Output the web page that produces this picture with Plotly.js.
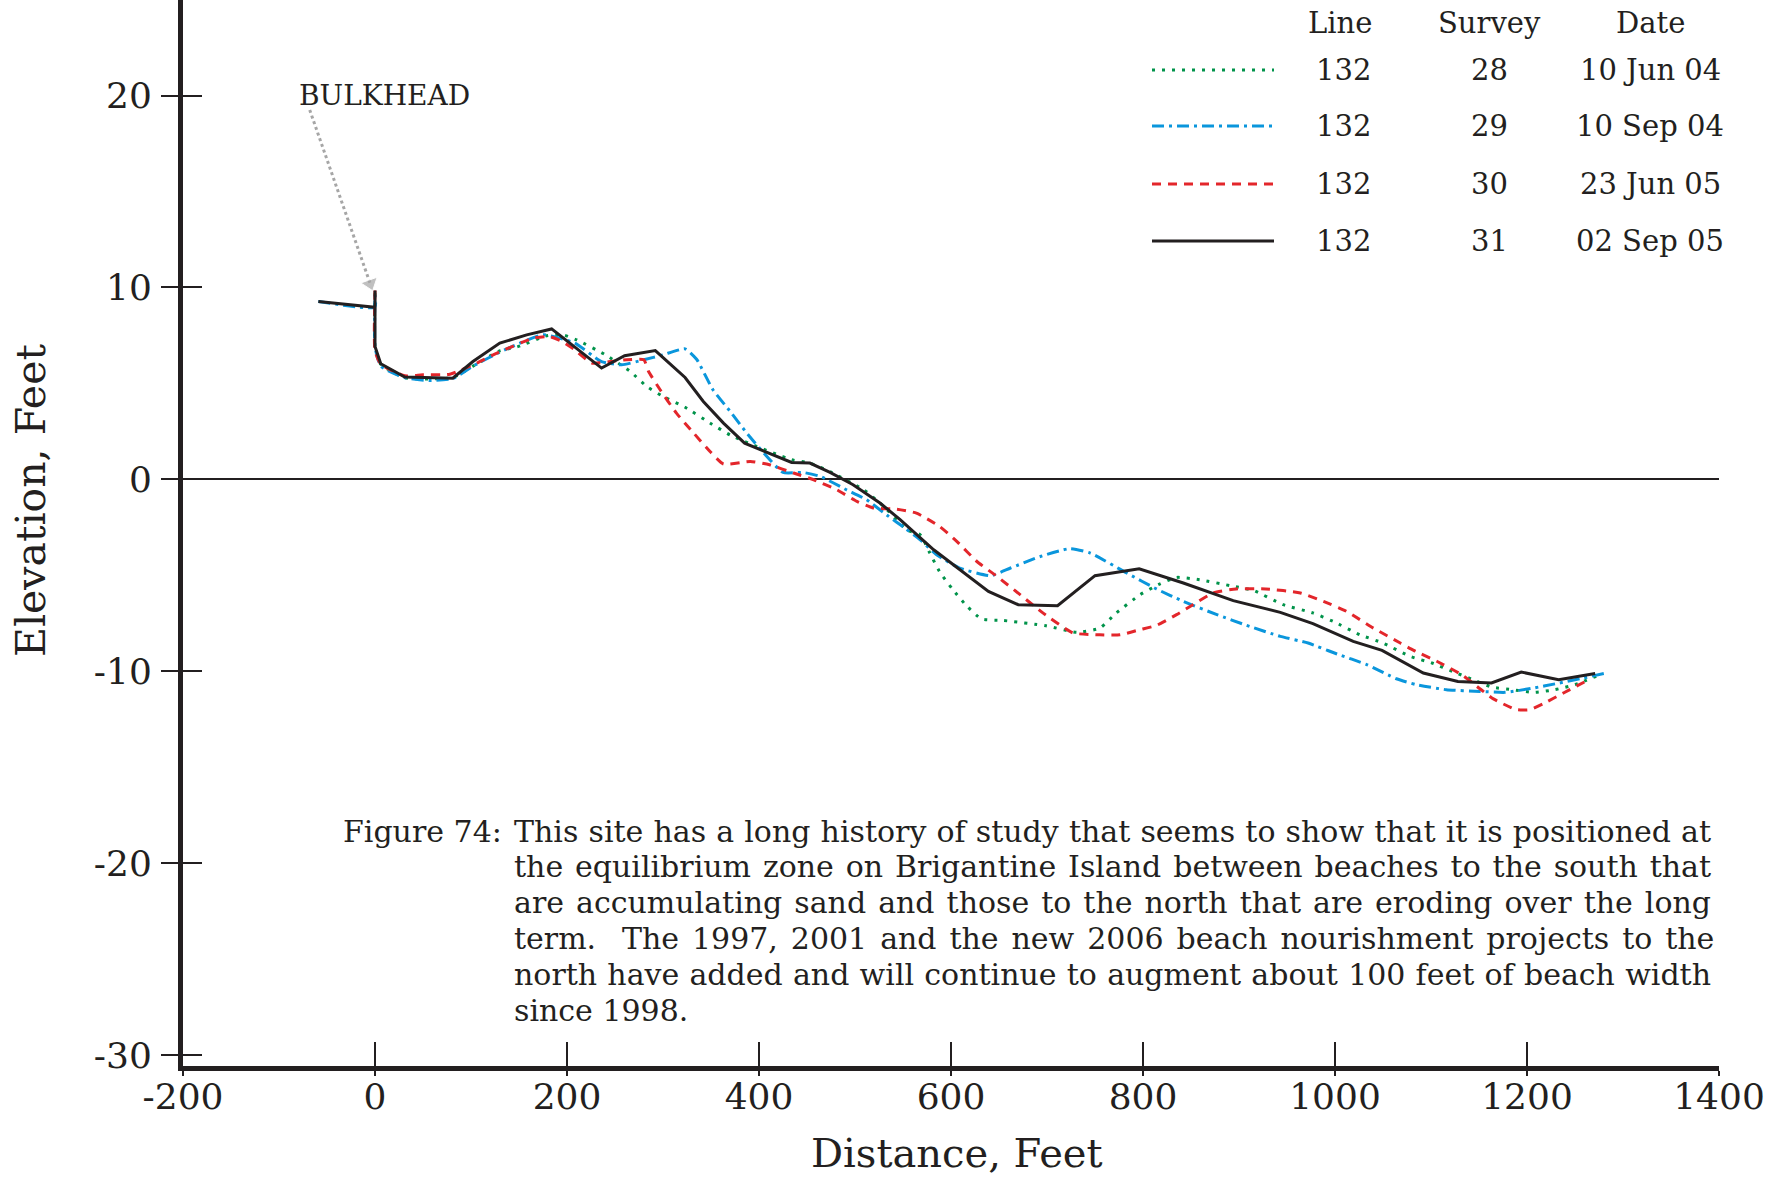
<!DOCTYPE html>
<html>
<head>
<meta charset="utf-8">
<script src="https://cdn.plot.ly/plotly-3.0.1.min.js"></script>
<style>html,body{margin:0;padding:0;background:#fff;}#chart{width:1782px;height:1181px;}</style>
</head>
<body>
<div id="chart"></div>
<script>
// ---------- data ----------
const xTickVals = [-200, 0, 200, 400, 600, 800, 1000, 1200, 1400];
const xTickText = ['-200', '0', '200', '400', '600', '800', '1000', '1200', '1400'];
const yTickVals = [-30, -20, -10, 0, 10, 20];
const yTickText = ['-30', '-20', '-10', '0', '10', '20'];

// Survey 28 (10 Jun 04) - green dotted
const s28x = [0, 0, 6, 31, 81, 102, 130, 148, 180, 196, 210, 240, 266, 283, 300, 323, 351, 370, 385, 434, 453, 474, 509, 530, 554, 568, 578, 588, 602, 616, 632, 654, 699, 731, 755, 772, 797, 816, 835, 859, 891, 915, 946, 977, 998, 1026, 1050, 1078, 1101, 1122, 1142, 1163, 1185, 1207, 1229, 1250, 1275];
const s28y = [9.7, 6.9, 6.0, 5.3, 5.3, 5.9, 6.7, 6.9, 7.5, 7.53, 7.27, 6.49, 5.62, 4.84, 4.32, 3.76, 2.87, 2.31, 1.97, 1.02, 0.85, 0.4, -0.54, -1.41, -2.63, -2.89, -3.84, -4.8, -5.75, -6.58, -7.28, -7.35, -7.63, -7.97, -7.75, -6.97, -6.01, -5.49, -5.11, -5.23, -5.54, -5.79, -6.53, -6.96, -7.4, -8.1, -8.53, -9.22, -9.57, -10.0, -10.4, -10.82, -10.96, -11.1, -10.96, -10.7, -10.2];

// Survey 29 (10 Sep 04) - blue dash-dot
const s29x = [-59, 0, 0, 0, 6, 31, 57, 81, 102, 135, 175, 208, 236, 257, 280, 300, 323, 335, 352, 370, 387, 405, 425, 446, 464, 491, 512, 535, 552, 568, 585, 609, 641, 662, 693, 724, 745, 783, 814, 842, 877, 908, 943, 972, 1002, 1033, 1064, 1085, 1116, 1151, 1177, 1207, 1231, 1259, 1280];
const s29y = [9.27, 8.97, 9.6, 6.9, 5.9, 5.3, 5.15, 5.25, 5.9, 6.75, 7.53, 7.1, 6.14, 5.97, 6.23, 6.49, 6.8, 6.26, 4.67, 3.54, 2.43, 1.37, 0.36, 0.36, 0.15, -0.54, -1.06, -1.93, -2.54, -3.15, -3.93, -4.62, -5.02, -4.62, -4.02, -3.61, -3.84, -4.88, -5.71, -6.36, -7.05, -7.61, -8.18, -8.53, -9.1, -9.65, -10.39, -10.7, -10.96, -11.05, -11.1, -10.87, -10.64, -10.35, -10.12];

// Survey 30 (23 Jun 05) - red dashed
const s30x = [0, 0, 6, 31, 50, 78, 106, 127, 165, 182, 195, 207, 226, 245, 262, 280, 285, 297, 314, 332, 349, 363, 391, 411, 436, 457, 481, 502, 519, 543, 564, 588, 606, 627, 648, 672, 696, 727, 755, 776, 797, 814, 835, 852, 873, 897, 928, 964, 988, 1012, 1040, 1068, 1082, 1106, 1132, 1153, 1165, 1189, 1203, 1217, 1238, 1262];
const s30y = [9.84, 6.7, 6.0, 5.4, 5.45, 5.48, 6.06, 6.58, 7.36, 7.44, 7.18, 6.79, 6.06, 6.14, 6.23, 6.23, 5.62, 4.67, 3.45, 2.41, 1.45, 0.8, 0.93, 0.76, 0.33, -0.02, -0.54, -1.15, -1.49, -1.55, -1.76, -2.45, -3.23, -4.28, -5.06, -6.01, -6.97, -8.0, -8.1, -8.1, -7.83, -7.61, -7.05, -6.53, -5.92, -5.71, -5.71, -5.92, -6.36, -6.88, -7.75, -8.53, -8.91, -9.48, -10.18, -10.99, -11.44, -12.0, -12.0, -11.69, -11.13, -10.5];

// Survey 31 (02 Sep 05) - black solid
const s31x = [-59, 0, 0, 0, 6, 31, 81, 102, 130, 158, 184, 236, 260, 292, 323, 342, 363, 385, 434, 453, 474, 498, 526, 547, 582, 639, 670, 711, 750, 796, 842, 894, 943, 977, 1019, 1049, 1092, 1128, 1163, 1194, 1233, 1271];
const s31y = [9.27, 8.97, 9.84, 6.92, 6.02, 5.33, 5.27, 6.14, 7.1, 7.53, 7.84, 5.8, 6.44, 6.71, 5.31, 4.06, 2.93, 1.89, 0.88, 0.85, 0.36, -0.28, -1.23, -2.1, -3.67, -5.84, -6.53, -6.58, -5.02, -4.66, -5.4, -6.32, -6.93, -7.52, -8.44, -8.91, -10.09, -10.53, -10.61, -10.04, -10.44, -10.12];

// Bulkhead pointer
const bulkheadX = [-68, -5];
const bulkheadY = [19.25, 10.2];
const bulkheadLabel = 'BULKHEAD';
const bulkheadLabelPos = [10, 20];

// Legend table
const legendHeaders = ['Line', 'Survey', 'Date'];
const legendLine = ['132', '132', '132', '132'];
const legendSurvey = ['28', '29', '30', '31'];
const legendDate = ['10 Jun 04', '10 Sep 04', '23 Jun 05', '02 Sep 05'];

const xTitle = 'Distance, Feet';
const yTitle = 'Elevation, Feet';
const captionLead = 'Figure 74:';
const captionLines = [
  'This site has a long history of study that seems to show that it is positioned at',
  'the equilibrium zone on Brigantine Island between beaches to the south that',
  'are accumulating sand and those to the north that are eroding over the long',
  'term.\u00a0 The 1997, 2001 and the new 2006 beach nourishment projects to the',
  'north have added and will continue to augment about 100 feet of beach width',
  'since 1998.'
];

// ---------- styles ----------
const INK = '#231f20';
const FONT = 'DejaVu Serif, Liberation Serif, serif';
const styles = [
  {color: '#00934a', dash: '3px,7px', width: 3},
  {color: '#0a96dc', dash: '12px,5px,3px,5px', width: 3},
  {color: '#e3262b', dash: '9px,7px', width: 3},
  {color: INK, dash: 'solid', width: 3}
];

const W = 1782, H = 1181, ML = 183, MR = 63, MT = 0, MB = 115;
const PW = W - ML - MR, PH = H - MT - MB;
const px = X => (X - ML) / PW;
const py = Y => 1 - (Y - MT) / PH;

const series = [[s28x, s28y], [s29x, s29y], [s30x, s30y], [s31x, s31y]];
const traces = series.map((s, i) => ({
  type: 'scatter', mode: 'lines', x: s[0], y: s[1],
  line: {color: styles[i].color, dash: styles[i].dash, width: styles[i].width,
         shape: i < 3 ? 'spline' : 'linear', smoothing: 0.5},
  hoverinfo: 'skip', showlegend: false
}));
traces.push({
  type: 'scatter', mode: 'lines+markers', x: bulkheadX, y: bulkheadY,
  line: {color: '#a6a6a6', dash: '3px,3px', width: 3},
  marker: {size: [0, 15], color: '#a6a6a6', symbol: 'triangle-up', angleref: 'previous'},
  hoverinfo: 'skip', showlegend: false
});
// invisible anchors so the overlaid tick-only axes get drawn
traces.push({type: 'scatter', mode: 'markers', x: [0], y: [0], xaxis: 'x2', yaxis: 'y',
  marker: {opacity: 0}, hoverinfo: 'skip', showlegend: false});
traces.push({type: 'scatter', mode: 'markers', x: [0], y: [0], xaxis: 'x', yaxis: 'y2',
  marker: {opacity: 0}, hoverinfo: 'skip', showlegend: false});

const annotations = [];
const shapes = [];
const colX = [1340, 1489, 1650];
const headerY = 23;
const rowY = [70, 126, 184, 241];
legendHeaders.forEach((t, j) => annotations.push({
  xref: 'paper', yref: 'paper', x: px(colX[j]), y: py(headerY), text: t, showarrow: false,
  xanchor: 'center', yanchor: 'middle', font: {family: FONT, size: 29, color: INK}
}));
const cols = [legendLine, legendSurvey, legendDate];
rowY.forEach((Y, i) => {
  cols.forEach((c, j) => annotations.push({
    xref: 'paper', yref: 'paper', x: px(colX[j] + (j === 0 ? 3 : 0)), y: py(Y), text: c[i], showarrow: false,
    xanchor: 'center', yanchor: 'middle', font: {family: FONT, size: 29, color: INK}
  }));
  shapes.push({type: 'line', xref: 'paper', yref: 'paper', x0: px(1152), x1: px(1274), y0: py(Y), y1: py(Y),
    line: {color: styles[i].color, dash: styles[i].dash, width: styles[i].width}});
});

annotations.push({
  x: bulkheadLabelPos[0], y: bulkheadLabelPos[1], text: bulkheadLabel, showarrow: false,
  xanchor: 'center', yanchor: 'middle', font: {family: FONT, size: 28, color: INK}
});

// captions
const CAP_SIZE = 30;
const capTop = 831, capStep = 35.9, capLeft = 512, capRight = 1709;
annotations.push({xref: 'paper', yref: 'paper', x: px(341), y: py(capTop), text: captionLead, showarrow: false,
  xanchor: 'left', yanchor: 'middle', align: 'left', font: {family: FONT, size: CAP_SIZE, color: INK}});
captionLines.forEach((t, i) => annotations.push({
  xref: 'paper', yref: 'paper', x: px(capLeft), y: py(capTop + i * capStep), text: t, showarrow: false,
  xanchor: 'left', yanchor: 'middle', align: 'left', font: {family: FONT, size: CAP_SIZE, color: INK}
}));

// axis titles
annotations.push({xref: 'paper', yref: 'paper', x: px(957), y: py(1153), text: xTitle, showarrow: false,
  xanchor: 'center', yanchor: 'middle', font: {family: FONT, size: 40, color: INK}});
annotations.push({xref: 'paper', yref: 'paper', x: px(31), y: py(501), text: yTitle, showarrow: false, textangle: -90,
  xanchor: 'center', yanchor: 'middle', font: {family: FONT, size: 41, color: INK}});

const yRange = [-30.57, 24.98];
const xRange = [-200, 1400];
const layout = {
  width: W, height: H,
  margin: {l: ML, r: MR, t: MT, b: MB, pad: 0},
  paper_bgcolor: '#fff', plot_bgcolor: '#fff',
  showlegend: false,
  font: {family: FONT, color: INK},
  xaxis: {range: xRange, tickvals: xTickVals, ticktext: xTickText, ticks: 'outside', ticklen: 5, tickwidth: 2,
    tickcolor: INK, showline: true, linewidth: 5, linecolor: INK, showgrid: false, zeroline: false,
    tickfont: {family: FONT, size: 36, color: INK}, ticklabelstandoff: -10, fixedrange: true},
  xaxis2: {range: xRange, overlaying: 'x', anchor: 'y', side: 'bottom', tickvals: xTickVals, ticks: 'inside', ticklen: 24,
    tickwidth: 2, tickcolor: INK, showticklabels: false, showline: false, showgrid: false, zeroline: false, fixedrange: true},
  yaxis: {range: yRange, tickvals: yTickVals, ticktext: yTickText, ticks: 'outside', ticklen: 17, tickwidth: 2,
    tickcolor: INK, showline: true, linewidth: 5, linecolor: INK, showgrid: false,
    zeroline: true, zerolinecolor: INK, zerolinewidth: 2,
    tickfont: {family: FONT, size: 36, color: INK}, ticklabelstandoff: 2, fixedrange: true},
  yaxis2: {range: yRange, overlaying: 'y', anchor: 'x', side: 'left', tickvals: yTickVals, ticks: 'inside', ticklen: 19,
    tickwidth: 2, tickcolor: INK, showticklabels: false, showline: false, showgrid: false, zeroline: false, fixedrange: true},
  annotations: annotations,
  shapes: shapes
};

Plotly.newPlot('chart', traces, layout, {staticPlot: true, displayModeBar: false}).then(gd => {
  // justify the caption body lines (all but the last) to the right margin
  const nodes = gd.querySelectorAll('text.annotation-text');
  nodes.forEach(node => {
    const idx = captionLines.indexOf(node.textContent);
    if (idx < 0 || idx === captionLines.length - 1) return;
    const w = node.getComputedTextLength();
    const gaps = (node.textContent.match(/ /g) || []).length;
    if (!gaps) return;
    const extra = (capRight - capLeft - w) / gaps;
    if (extra > 0 && extra < 12) node.setAttribute('word-spacing', extra.toFixed(2));
  });
});
</script>
</body>
</html>
